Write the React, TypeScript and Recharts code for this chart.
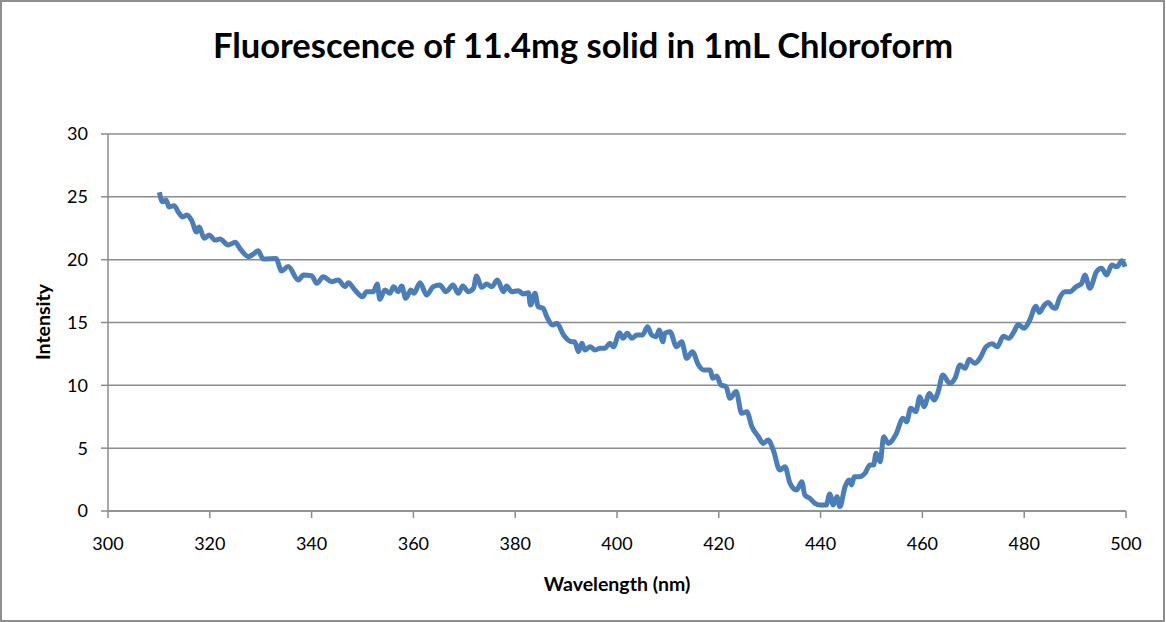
import React from 'react';
import { LineChart, Line, XAxis, YAxis, CartesianGrid } from 'recharts';

const wavelength = [
  310.1, 310.7, 311.4, 312.0, 313.0, 313.8, 314.7, 315.5, 316.4, 317.4, 317.9, 318.9, 319.9,
  321.0, 322.0, 323.6, 325.0, 325.9, 327.6, 328.5, 329.5, 330.5, 333.0, 334.1, 335.4, 337.4,
  338.4, 340.0, 341.0, 342.3, 343.9, 345.2, 346.6, 347.2, 348.5, 350.0, 350.8, 352.1, 352.9,
  353.4, 354.4, 355.4, 356.1, 357.0, 357.7, 358.5, 359.5, 360.1, 361.3, 362.6, 363.9, 365.2,
  366.4, 367.8, 368.8, 369.7, 370.8, 371.8, 372.4, 373.4, 374.4, 375.4, 376.5, 377.7, 378.3,
  379.3, 380.6, 381.6, 382.6, 383.0, 383.9, 384.5, 385.5, 386.2, 387.4, 388.2, 389.5, 391.1,
  391.7, 392.4, 393.1, 393.7, 394.7, 395.7, 396.7, 397.6, 398.6, 399.3, 400.5, 401.2, 402.0,
  402.9, 403.9, 405.0, 406.0, 406.8, 407.7, 408.3, 409.0, 409.4, 410.4, 411.7, 412.7, 413.7,
  414.8, 416.0, 417.0, 418.3, 418.8, 419.6, 420.4, 421.4, 422.2, 423.4, 424.5, 425.5, 426.5,
  427.8, 428.7, 429.7, 430.7, 432.0, 433.0, 434.0, 435.3, 436.3, 436.9, 437.9, 438.9, 439.9,
  441.1, 441.8, 442.5, 443.2, 443.8, 444.8, 445.6, 446.1, 446.6, 447.6, 448.7, 449.7, 450.4,
  450.9, 451.7, 452.4, 453.3, 454.8, 456.2, 456.9, 457.7, 458.7, 459.5, 460.3, 461.4, 462.3,
  463.1, 464.0, 465.4, 466.4, 467.4, 468.4, 469.2, 470.3, 471.3, 472.5, 473.7, 474.7, 475.9,
  477.0, 478.0, 478.8, 480.0, 481.1, 482.3, 483.0, 483.9, 484.7, 485.6, 486.1, 487.0, 488.0,
  489.0, 490.2, 491.3, 491.9, 492.9, 494.2, 495.2, 496.2, 497.2, 498.2, 499.2, 499.8,
];

const intensity = [
  25.36, 24.6, 24.75, 24.2, 24.3, 23.8, 23.4, 23.55, 23.15, 22.2, 22.6, 21.7, 21.96,
  21.56, 21.64, 21.17, 21.38, 20.9, 20.24, 20.43, 20.7, 20.05, 20.1, 19.1, 19.45, 18.38,
  18.78, 18.72, 18.12, 18.64, 18.25, 18.38, 17.85, 18.17, 17.59, 17.05, 17.45, 17.45, 18.06,
  16.85, 17.59, 17.32, 17.85, 17.45, 17.9, 16.92, 17.59, 17.32, 18.17, 17.19, 17.85, 17.98,
  17.45, 17.98, 17.32, 17.9, 17.45, 17.72, 18.7, 17.8, 18.06, 17.85, 18.38, 17.45, 17.9,
  17.45, 17.53, 17.27, 17.37, 16.39, 17.32, 16.26, 16.13, 15.46, 14.8, 14.94, 14.0, 13.47,
  13.47, 12.68, 13.34, 12.81, 13.07, 12.81, 12.95, 12.95, 13.34, 13.07, 14.19, 13.74, 14.14,
  13.74, 14.0, 14.0, 14.67, 14.0, 13.87, 14.4, 13.47, 14.14, 14.27, 13.07, 13.47, 12.15,
  12.68, 11.62, 11.22, 11.22, 10.56, 10.75, 10.03, 9.9, 8.97, 9.5, 7.77, 7.9, 6.71,
  5.91, 5.38, 5.65, 4.85, 3.26, 3.52, 2.2, 1.67, 2.33, 1.27, 1.0, 0.61, 0.48,
  0.48, 1.35, 0.48, 1.14, 0.35, 1.93, 2.47, 2.07, 2.73, 2.73, 3.0, 3.66, 3.66,
  4.59, 3.92, 5.91, 5.38, 6.1, 7.38, 7.11, 8.17, 7.9, 9.1, 8.3, 9.36, 8.83,
  9.5, 10.82, 10.16, 10.56, 11.62, 11.35, 12.07, 11.75, 12.15, 13.07, 13.3, 13.07, 13.9,
  13.74, 14.27, 14.85, 14.54, 15.2, 16.3, 15.8, 16.35, 16.6, 16.2, 16.13, 17.0, 17.45,
  17.45, 17.85, 18.12, 18.78, 17.72, 19.04, 19.31, 18.78, 19.57, 19.44, 19.92, 19.44,
];

const xTicks = [300, 320, 340, 360, 380, 400, 420, 440, 460, 480, 500];
const yTicks = [0, 5, 10, 15, 20, 25, 30];

const title = 'Fluorescence of 11.4mg solid in 1mL Chloroform';
const xTitle = 'Wavelength (nm)';
const yTitle = 'Intensity';

const data = wavelength.map((w, i) => ({ w, v: intensity[i] }));

const FONT = 'Lato, "Open Sans", sans-serif';
const GRID = '#8c8c8c';

export default function App() {
  return (
    <div style={{ position: 'absolute', left: 0, top: 0, width: 1166, height: 622, background: '#fff', fontFamily: FONT }}>
      <div
        style={{
          position: 'absolute', left: 0, top: 0, width: 1165, height: 622,
          border: '2px solid #8e8e8e', boxSizing: 'border-box',
        }}
      />
      <div
        style={{
          position: 'absolute', left: 0, top: 23, width: 1166, textAlign: 'center',
          fontWeight: 700, fontSize: 34.5, color: '#000', lineHeight: '44px',
        }}
      >
        {title}
      </div>
      <div
        style={{
          position: 'absolute', left: 617 - 200, top: 571, width: 400, textAlign: 'center',
          fontWeight: 700, fontSize: 19.5, color: '#000', lineHeight: '26px',
        }}
      >
        {xTitle}
      </div>
      <div
        style={{
          position: 'absolute', left: 43 - 100, top: 322 - 13, width: 200, height: 26, textAlign: 'center',
          fontWeight: 700, fontSize: 19.5, color: '#000', lineHeight: '26px',
          transform: 'rotate(-90deg)',
        }}
      >
        {yTitle}
      </div>
      <div style={{ position: 'absolute', left: 0, top: 0 }}>
        <LineChart width={1166} height={622} data={data} margin={{ top: 134, right: 40, bottom: 51, left: 0 }}>
          <CartesianGrid vertical={false} stroke={GRID} strokeWidth={1.5} />
          <XAxis
            dataKey="w"
            type="number"
            domain={[300, 500]}
            ticks={xTicks}
            height={60}
            tickSize={7}
            tickMargin={19}
            axisLine={{ stroke: GRID, strokeWidth: 1.5 }}
            tickLine={{ stroke: GRID, strokeWidth: 1.5 }}
            tick={{ fill: '#000', fontSize: 18, fontFamily: FONT }}
            interval={0}
          />
          <YAxis
            type="number"
            domain={[0, 30]}
            ticks={yTicks}
            width={108}
            tickSize={7}
            tickMargin={13}
            axisLine={{ stroke: GRID, strokeWidth: 1.5 }}
            tickLine={{ stroke: GRID, strokeWidth: 1.5 }}
            tick={{ fill: '#000', fontSize: 18, fontFamily: FONT }}
            interval={0}
          />
          <Line
            dataKey="v"
            type="monotone"
            stroke="#4a7ebb"
            strokeWidth={5}
            dot={false}
            isAnimationActive={false}
          />
        </LineChart>
      </div>
    </div>
  );
}
